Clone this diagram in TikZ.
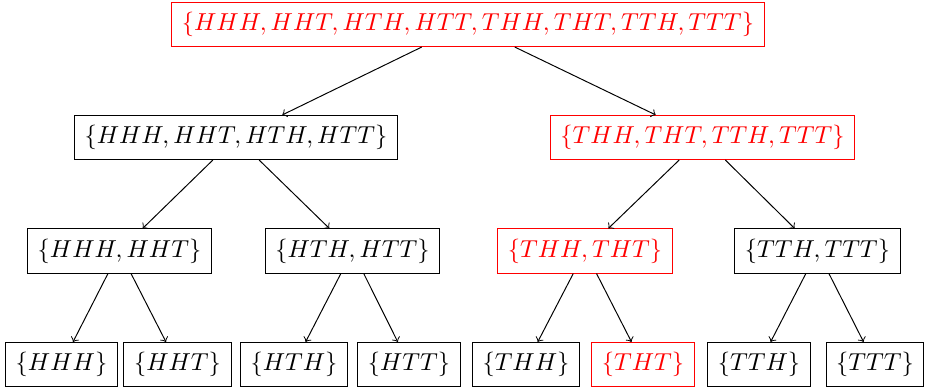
\documentclass[tikz,border=0pt]{standalone}
\begin{document}
\begin{tikzpicture}[x=0.408pt,y=-0.408pt,
  box/.style={draw,rectangle,inner xsep=4.1pt,inner ysep=4pt},
  hi/.style={box,draw=red,text=red},
  arr/.style={->}]
\useasboundingbox (0,0) rectangle (927,388);
\node[hi] (r) at (468,24.5) {$\{HHH,HHT,HTH,HTT,THH,THT,TTH,TTT\}$};
\node[box] (a) at (236,137.5) {$\{HHH,HHT,HTH,HTT\}$};
\node[hi] (b) at (702.5,137.5) {$\{THH,THT,TTH,TTT\}$};
\node[box] (aa) at (119.5,251) {$\{HHH,HHT\}$};
\node[box] (ab) at (352.5,251) {$\{HTH,HTT\}$};
\node[hi] (ba) at (585,251) {$\{THH,THT\}$};
\node[box] (bb) at (817.5,251) {$\{TTH,TTT\}$};
\node[box] (aaa) at (61.5,364.5) {$\{HHH\}$};
\node[box] (aab) at (177.5,364.5) {$\{HHT\}$};
\node[box] (aba) at (294,364.5) {$\{HTH\}$};
\node[box] (abb) at (409,364.5) {$\{HTT\}$};
\node[box] (baa) at (526,364.5) {$\{THH\}$};
\node[hi] (bab) at (643,364.5) {$\{THT\}$};
\node[box] (bba) at (759,364.5) {$\{TTH\}$};
\node[box] (bbb) at (875,364.5) {$\{TTT\}$};
\foreach \p/\c in {r/a,r/b,a/aa,a/ab,b/ba,b/bb,aa/aaa,aa/aab,ab/aba,ab/abb,ba/baa,ba/bab,bb/bba,bb/bbb}
  \draw[arr] (\p) -- (\c);
\end{tikzpicture}
\end{document}
